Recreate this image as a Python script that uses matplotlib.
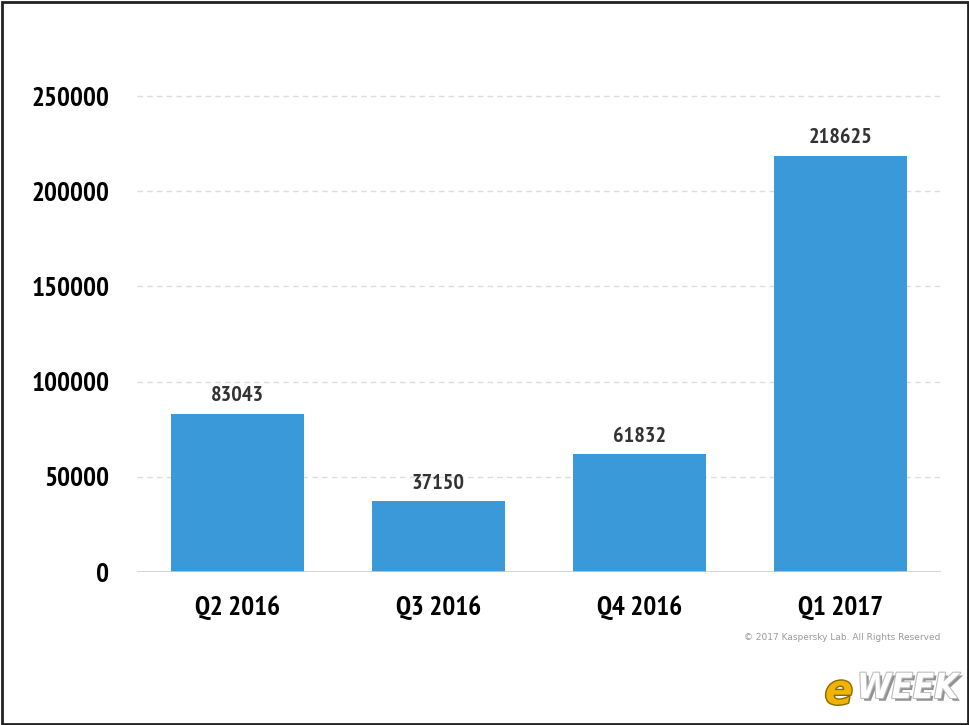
import matplotlib.pyplot as plt
import matplotlib.patheffects as pe
from matplotlib.patches import Rectangle

quarters = ['Q2 2016', 'Q3 2016', 'Q4 2016', 'Q1 2017']
counts = [83043, 37150, 61832, 218625]
yticks = [0, 50000, 100000, 150000, 200000, 250000]

plt.rcParams['font.family'] = ['PT Sans Narrow', 'DejaVu Sans']

fig = plt.figure(figsize=(9.7, 7.25), dpi=100)
ax = fig.add_axes([137 / 970, 1 - 572 / 725, (941 - 137) / 970, (572 - 70) / 725])

x = range(len(quarters))
ax.bar(x, counts, width=0.66, color='#3a99d8', zorder=2)
for xi, v in zip(x, counts):
    ax.text(xi, v + 4500, str(v), ha='center', va='bottom', fontsize=16,
            fontweight='bold', color='#333333')

ax.set_xlim(-0.5, 3.5)
ax.set_ylim(0, 250000 * (572 - 70) / (572 - 96))
ax.set_yticks(yticks)
ax.set_yticklabels([str(t) for t in yticks], fontsize=19.5, fontweight='bold')
ax.set_xticks(list(x))
ax.set_xticklabels(quarters, fontsize=19.5, fontweight='bold')
ax.tick_params(length=0)
ax.tick_params(axis='y', pad=20)
ax.tick_params(axis='x', pad=17)

for t in yticks[1:]:
    ax.axhline(t, color='#dddddd', lw=1, ls=(0, (4, 3)), zorder=1)
ax.axhline(0, color='#cccccc', lw=1.2, zorder=3)
for s in ax.spines.values():
    s.set_visible(False)

fig.text(940 / 970, 1 - 638 / 725, '\u00a9 2017 Kaspersky Lab. All Rights Reserved',
         ha='right', va='center', fontsize=6.5, color='#999999', family='DejaVu Sans')

# eWEEK logo approximation
fig.text(853 / 970, 1 - 692 / 725, 'e', ha='right', va='center', fontsize=30,
         fontweight='bold', style='italic', color='#f0b400', family='DejaVu Sans',
         path_effects=[pe.withStroke(linewidth=2, foreground='#8a6a00')])
fig.text(857 / 970, 1 - 688 / 725, 'WEEK', ha='left', va='center', fontsize=25,
         fontweight='bold', style='italic', fontstretch='condensed', color='white',
         family='DejaVu Sans',
         path_effects=[pe.withSimplePatchShadow(offset=(2, -2), shadow_rgbFace='#777777', alpha=0.8),
                       pe.withStroke(linewidth=1.5, foreground='#bbbbbb')])

fig.patches.append(Rectangle((0.002, 0.002), 0.996, 0.995, transform=fig.transFigure,
                             fill=False, edgecolor='#222222', lw=2))

fig.savefig('out.png', dpi=100)
